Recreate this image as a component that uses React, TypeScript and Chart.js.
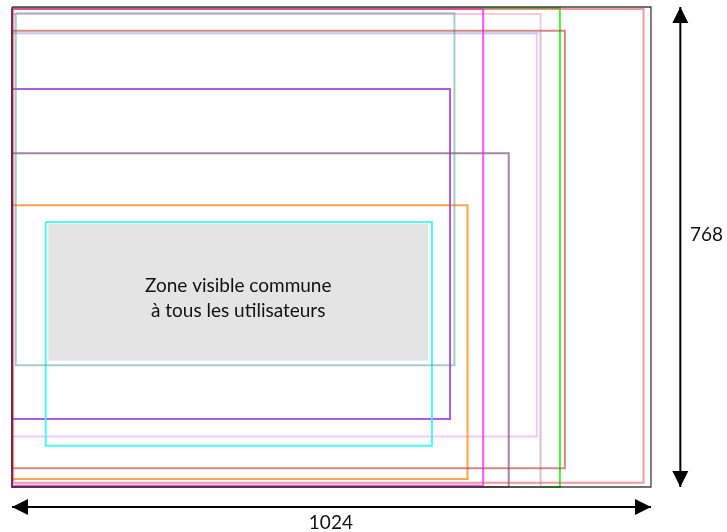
import React, { useEffect, useRef } from "react";
import { Chart, registerables } from "chart.js";

Chart.register(...registerables);

// Screen coordinate system (pixels of a 1024 x 768 screen, y downwards)
const screenWidth = 1024;
const screenHeight = 768;

// Visible areas, listed from back to front
const rectNames = [
  "vert", "cyan clair", "lavande", "rose", "mauve", "orange", "violet",
  "cyan", "magenta", "gris-bleu", "brun-rouge", "rouge clair", "écran",
];
const rectLeft = [0, 0, 0, 0, 0, 0, 0, 54, 0, 6, 0, 2, 0];
const rectTop = [2, 42, 42, 11, 234, 317, 131, 344, 3, 10, 38, 3, 0];
const rectRight = [878, 847, 841, 847, 796, 730, 702, 673, 755, 709, 886, 1012, 1024];
const rectBottom = [768, 768, 687, 768, 768, 755, 659, 702, 766, 573, 738, 761, 768];
const rectColors = [
  "rgba(40,240,40,0.9)", "rgba(120,220,230,0.45)", "rgba(225,150,230,0.5)",
  "rgba(255,150,175,0.5)", "rgba(130,95,130,0.75)", "rgba(255,140,40,0.8)",
  "rgba(150,50,210,0.8)", "rgba(40,250,250,0.85)", "rgba(255,30,255,0.75)",
  "rgba(80,150,150,0.5)", "rgba(175,60,55,0.6)", "rgba(230,70,80,0.55)",
  "rgba(30,30,30,0.85)",
];

// Common visible zone (filled)
const commonLeft = 58;
const commonRight = 667;
const commonTop = 347;
const commonBottom = 566;
const commonLines = ["Zone visible commune", "à tous les utilisateurs"];
const commonLineY = [456, 496];

// Dimension arrows
const arrowX0 = [0, 1071];
const arrowY0 = [800, 0];
const arrowX1 = [1024, 1071];
const arrowY1 = [800, 768];
const dimLabels = ["1024", "768"];
const dimLabelX = [511, 1113];
const dimLabelY = [835, 375];

export default function App() {
  const ref = useRef<HTMLCanvasElement | null>(null);

  useEffect(() => {
    const canvas = ref.current;
    if (!canvas) return;

    const datasets: any[] = [];
    datasets.push({
      label: "zone commune",
      data: [
        { x: commonLeft, y: commonTop },
        { x: commonRight, y: commonTop },
      ],
      showLine: true,
      borderWidth: 0,
      borderColor: "rgba(0,0,0,0)",
      backgroundColor: "#e4e4e4",
      fill: { value: commonBottom },
      pointRadius: 0,
      order: 100,
      clip: false,
    });
    rectNames.forEach((name, i) => {
      datasets.push({
        label: name,
        data: [
          { x: rectLeft[i], y: rectTop[i] },
          { x: rectRight[i], y: rectTop[i] },
          { x: rectRight[i], y: rectBottom[i] },
          { x: rectLeft[i], y: rectBottom[i] },
          { x: rectLeft[i], y: rectTop[i] },
        ],
        showLine: true,
        borderColor: rectColors[i],
        borderWidth: i === rectNames.length - 1 ? 1.3 : 2,
        backgroundColor: "rgba(0,0,0,0)",
        fill: false,
        pointRadius: 0,
        tension: 0,
        borderJoinStyle: "miter",
        order: 50 - i,
        clip: false,
      });
    });
    arrowX0.forEach((_, i) => {
      datasets.push({
        label: "flèche " + dimLabels[i],
        data: [
          { x: arrowX0[i], y: arrowY0[i] },
          { x: arrowX1[i], y: arrowY1[i] },
        ],
        showLine: true,
        borderColor: "#000",
        borderWidth: 2,
        pointRadius: 0,
        fill: false,
        order: 1,
        clip: false,
      });
    });

    const annotate = {
      id: "annotate",
      afterDatasetsDraw(chart: any) {
        const ctx = chart.ctx;
        const xs = chart.scales.x;
        const ys = chart.scales.y;
        ctx.save();
        ctx.fillStyle = "#000";
        const headLen = 16;
        const headHalf = 8;
        for (let i = 0; i < arrowX0.length; i++) {
          const ax = xs.getPixelForValue(arrowX0[i]);
          const ay = ys.getPixelForValue(arrowY0[i]);
          const bx = xs.getPixelForValue(arrowX1[i]);
          const by = ys.getPixelForValue(arrowY1[i]);
          const ang = Math.atan2(by - ay, bx - ax);
          const ends: [number, number, number][] = [
            [bx, by, ang],
            [ax, ay, ang + Math.PI],
          ];
          for (const [tx, ty, a] of ends) {
            const c = Math.cos(a);
            const s = Math.sin(a);
            const baseX = tx - c * headLen;
            const baseY = ty - s * headLen;
            ctx.beginPath();
            ctx.moveTo(tx, ty);
            ctx.lineTo(baseX - s * headHalf, baseY + c * headHalf);
            ctx.lineTo(baseX + s * headHalf, baseY - c * headHalf);
            ctx.closePath();
            ctx.fill();
          }
        }
        ctx.fillStyle = "#111";
        ctx.textAlign = "center";
        ctx.textBaseline = "alphabetic";
        ctx.font = '19px "Lato", "Open Sans", sans-serif';
        const cx = xs.getPixelForValue((commonLeft + commonRight) / 2);
        commonLines.forEach((t, i) => {
          ctx.fillText(t, cx, ys.getPixelForValue(commonLineY[i]));
        });
        dimLabels.forEach((t, i) => {
          ctx.fillText(t, xs.getPixelForValue(dimLabelX[i]), ys.getPixelForValue(dimLabelY[i]));
        });
        ctx.restore();
      },
    };

    const chart = new Chart(canvas, {
      type: "scatter",
      data: { datasets },
      options: {
        animation: false,
        responsive: false,
        maintainAspectRatio: false,
        layout: { padding: { left: 12, top: 7, right: 76, bottom: 45 } },
        scales: {
          x: { type: "linear", min: 0, max: screenWidth, display: false },
          y: { type: "linear", min: 0, max: screenHeight, reverse: true, display: false },
        },
        plugins: {
          legend: { display: false },
          tooltip: { enabled: false },
          title: { display: false },
        },
      },
      plugins: [annotate],
    });
    return () => chart.destroy();
  }, []);

  return (
    <div style={{ position: "absolute", left: 0, top: 0, width: 727, height: 532, background: "#fff" }}>
      <canvas ref={ref} width={727} height={532} style={{ display: "block" }} />
    </div>
  );
}
